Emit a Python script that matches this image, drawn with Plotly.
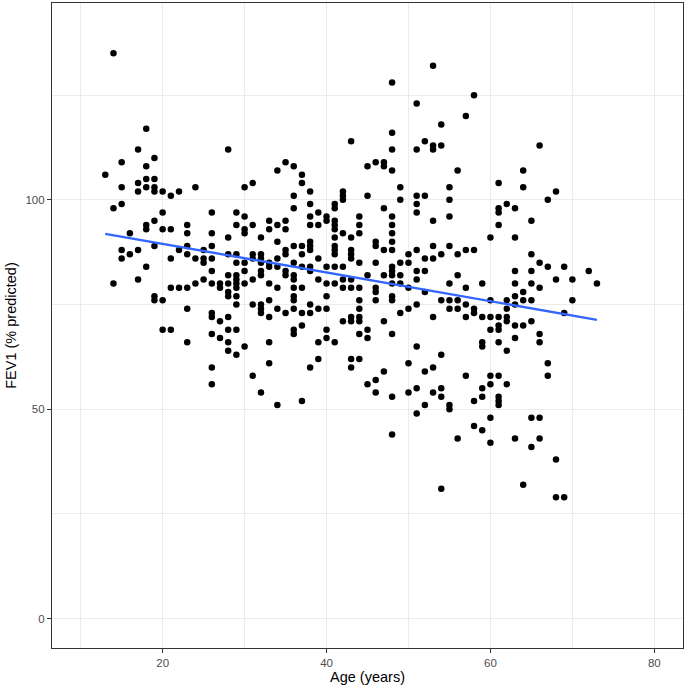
import numpy as np
import plotly.graph_objects as go

# FEV1 (% predicted) values, grouped by age (years)
fev1_by_age = {
    13: [106],
    14: [135, 98, 80],
    15: [109, 103, 99, 88, 86],
    16: [92, 87],
    17: [112, 104, 102, 88, 81],
    18: [117, 108, 105, 103, 94, 93, 84],
    19: [110, 105, 103, 102, 95, 89, 77, 76],
    20: [102, 97, 93, 76, 69],
    21: [101, 93, 86, 79, 69],
    22: [102, 88, 79],
    23: [94, 92, 89, 87, 79, 74, 66],
    24: [103, 86, 80],
    25: [88, 86, 85, 81],
    26: [97, 92, 89, 86, 83, 80, 73, 72, 68, 60, 56],
    27: [80, 79, 71, 67],
    28: [112, 91, 87, 82, 80, 78, 77, 72, 69, 66, 64],
    29: [97, 94, 87, 85, 82, 81, 80, 79, 77, 75, 69, 63],
    30: [103, 96, 93, 92, 85, 83, 80, 65],
    31: [104, 94, 87, 86, 81, 75, 58],
    32: [91, 87, 86, 85, 83, 82, 75, 74, 73, 54],
    33: [95, 93, 85, 84, 80, 76, 72, 66, 61],
    34: [107, 94, 90, 86, 84, 79, 74, 51],
    35: [109, 95, 93, 88, 87, 83, 82, 73],
    36: [108, 101, 98, 89, 85, 82, 81, 79, 77, 76, 74, 69, 68],
    37: [106, 104, 89, 87, 84, 79, 73, 70, 52],
    38: [102, 99, 96, 94, 90, 89, 88, 84, 83, 75, 73, 60],
    39: [97, 94, 86, 81, 74, 66, 62],
    40: [96, 95, 84, 80, 77, 74, 69, 67],
    41: [99, 98, 95, 94, 93, 91, 89, 88, 87, 84, 80, 66],
    42: [102, 101, 100, 92, 84, 81, 79, 71],
    43: [114, 91, 88, 87, 86, 81, 79, 72, 71, 62, 60],
    44: [96, 94, 92, 85, 79, 76, 74, 72, 71, 68, 62],
    45: [108, 101, 82, 69, 67, 56],
    46: [109, 90, 89, 85, 79, 78, 76, 57, 54],
    47: [109, 108, 98, 88, 82, 71, 59],
    48: [128, 116, 112, 107, 96, 94, 92, 90, 88, 84, 83, 82, 80, 77, 76, 68, 53, 44],
    49: [103, 100, 85, 82, 80, 73],
    50: [87, 85, 79, 74, 61, 54],
    51: [123, 112, 101, 99, 97, 88, 83, 81, 75, 65, 55, 49],
    52: [114, 101, 86, 83, 78, 59, 51],
    53: [132, 113, 112, 95, 89, 86, 72, 60, 54],
    54: [118, 113, 87, 76, 63, 55, 53, 31],
    55: [103, 100, 96, 89, 80, 76, 74, 51, 50],
    56: [107, 87, 82, 76, 74, 43],
    57: [120, 88, 79, 75, 72, 58],
    58: [125, 88, 74, 73, 52, 46],
    59: [80, 72, 66, 65, 55, 53, 45],
    60: [91, 76, 72, 69, 58, 56, 48, 42],
    61: [104, 98, 97, 94, 72, 70, 69, 66, 58, 53, 52, 51],
    62: [99, 76, 74, 72, 71, 64, 56],
    63: [98, 91, 83, 80, 77, 75, 70, 67, 43],
    64: [107, 103, 78, 76, 70, 32],
    65: [95, 87, 83, 80, 76, 71, 48, 41],
    66: [113, 85, 79, 68, 66, 48, 43],
    67: [100, 84, 61, 58],
    68: [102, 81, 38, 29],
    69: [84, 73, 29],
    70: [81, 76],
    72: [83],
    73: [80],
}

age = [a for a, vals in fev1_by_age.items() for _ in vals]
fev1 = [v for vals in fev1_by_age.values() for v in vals]

x_ticks = [20, 40, 60, 80]
y_ticks = [0, 50, 100]

# linear fit (geom_smooth(method = "lm"))
slope, intercept = np.polyfit(age, fev1, 1)
fit_x = [min(age), max(age)]
fit_y = [intercept + slope * xx for xx in fit_x]

fig = go.Figure()
fig.add_trace(go.Scatter(
    x=age, y=fev1, mode="markers",
    marker=dict(color="black", size=6.5, line=dict(width=0)),
    showlegend=False, hoverinfo="x+y",
))
fig.add_trace(go.Scatter(
    x=fit_x, y=fit_y, mode="lines",
    line=dict(color="#3366FF", width=2.4),
    showlegend=False,
))

axis_common = dict(
    showgrid=True, gridcolor="#EBEBEB", gridwidth=1.1,
    zeroline=False,
    showline=True, linecolor="#333333", linewidth=1.1, mirror=True,
    ticks="outside", ticklen=4, tickwidth=1.1, tickcolor="#333333",
    tickfont=dict(family="Liberation Sans, Arial, sans-serif", size=11.5, color="#4D4D4D"),
)

fig.update_layout(
    width=689, height=689,
    paper_bgcolor="white", plot_bgcolor="white",
    margin=dict(l=52, r=6, t=3, b=41),
    font=dict(family="Liberation Sans, Arial, sans-serif"),
    xaxis=dict(
        range=[6.5, 83.5], tickvals=x_ticks,
        minor=dict(tickvals=[10, 30, 50, 70], showgrid=True, gridcolor="#EBEBEB", gridwidth=0.55, ticks=""),
        title=dict(text="Age (years)", font=dict(size=14.5, color="black"), standoff=4),
        **axis_common,
    ),
    yaxis=dict(
        range=[-7, 147], tickvals=y_ticks,
        minor=dict(tickvals=[25, 75, 125], showgrid=True, gridcolor="#EBEBEB", gridwidth=0.55, ticks=""),
        title=dict(text="FEV1 (% predicted)", font=dict(size=14.5, color="black"), standoff=5),
        **axis_common,
    ),
)

fig.write_html(
    "out.html",
    config={"displayModeBar": False},
    post_script="document.body.style.margin='0';document.body.style.overflow='hidden';",
)
